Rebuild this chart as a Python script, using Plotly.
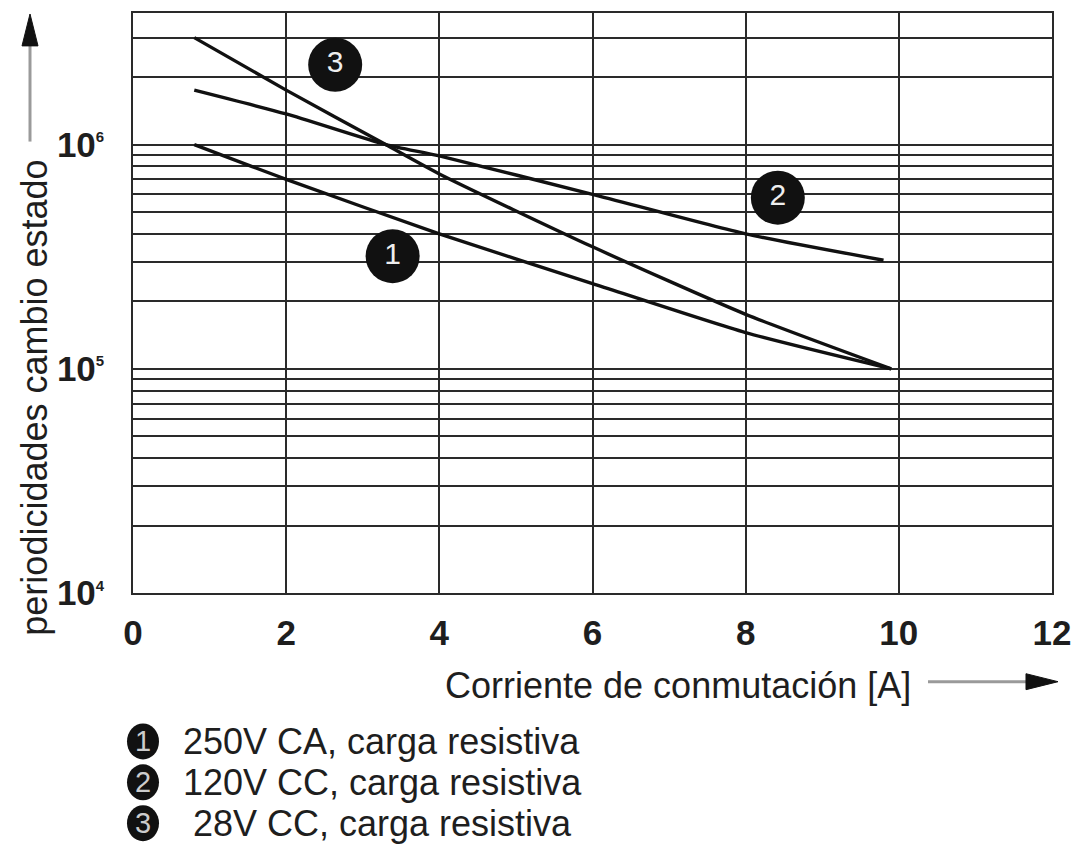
import plotly.graph_objects as go

# ---- data ----
x_c1 = [0.8, 2.0, 4.0, 6.0, 8.0, 9.9]
y_c1 = [1.0e6, 7.0e5, 4.0e5, 2.4e5, 1.45e5, 1.0e5]

x_c2 = [0.8, 2.0, 3.3, 4.0, 6.0, 8.0, 9.8]
y_c2 = [1.75e6, 1.37e6, 1.0e6, 8.9e5, 6.0e5, 4.0e5, 3.05e5]

x_c3 = [0.8, 2.0, 3.3, 4.0, 6.0, 8.0, 9.9]
y_c3 = [3.0e6, 1.75e6, 1.0e6, 7.4e5, 3.5e5, 1.75e5, 1.0e5]

badge_x = [3.39, 8.42, 2.64]
badge_y = [3.18e5, 5.8e5, 2.27e6]
badge_labels = ["1", "2", "3"]

x_ticks = [0, 2, 4, 6, 8, 10, 12]
y_major = [1e4, 1e5, 1e6]
y_major_text = ['10<sup><span style="font-size:15px">4</span></sup>',
                '10<sup><span style="font-size:15px">5</span></sup>',
                '10<sup><span style="font-size:15px">6</span></sup>']
y_minor = [m * 10 ** e for e in (4, 5, 6) for m in range(2, 10) if m * 10 ** e <= 3.0e6]

legend_labels = ["250V CA, carga resistiva", "120V CC, carga resistiva", " 28V CC, carga resistiva"]

x_title = "Corriente de conmutación [A]"
y_title = "periodicidades cambio estado"

FONT = "Liberation Sans, Arial, sans-serif"
GRID = "#2a2a2a"
TXT = "#1e1e1e"

# the page body adds an 8px offset; plot area in window pixels: x 133..1052, y 11..593
OFF = 8
L, R, T, B = 133, 1052, 11, 593
W, H = R - L, B - T
FIG_W, FIG_H = 1080 - OFF, 850 - OFF


def px(xp):
    return (xp - L) / W


def py(yp):
    return (B - yp) / H


fig = go.Figure()
for xs, ys in ((x_c1, y_c1), (x_c2, y_c2), (x_c3, y_c3)):
    fig.add_trace(go.Scatter(x=xs, y=ys, mode="lines",
                             line=dict(color="#111111", width=3.4, shape="spline", smoothing=0.6),
                             showlegend=False, hoverinfo="skip"))

fig.add_trace(go.Scatter(x=badge_x, y=badge_y, mode="markers+text", text=badge_labels,
                         textposition="middle center",
                         textfont=dict(color="#eeeeee", size=30, family=FONT),
                         marker=dict(size=54, color="#111111", line=dict(color="white", width=0)),
                         showlegend=False, hoverinfo="skip"))

fig.update_layout(
    width=FIG_W, height=FIG_H,
    margin=dict(l=L - OFF, r=FIG_W - (R - OFF), t=T - OFF, b=FIG_H - (B - OFF)),
    paper_bgcolor="white", plot_bgcolor="white",
    font=dict(family=FONT, color=TXT),
    xaxis=dict(range=[0, 12], tickvals=x_ticks, ticktext=[str(v) for v in x_ticks],
               showgrid=True, gridcolor=GRID, gridwidth=1.5, zeroline=False,
               showline=True, linecolor=GRID, linewidth=1.6, mirror=True,
               ticks="", tickfont=dict(size=35, family=FONT, weight="bold", color=TXT),
               ticklabelstandoff=8),
    yaxis=dict(type="log", range=[4, 6.587], tickvals=y_major, ticktext=y_major_text,
               showgrid=True, gridcolor=GRID, gridwidth=1.5, zeroline=False,
               showline=True, linecolor=GRID, linewidth=1.6, mirror=True,
               ticks="", tickfont=dict(size=35, family=FONT, weight="bold", color=TXT),
               ticklabelstandoff=20,
               minor=dict(tickvals=y_minor, showgrid=True, gridcolor=GRID, gridwidth=1.5, ticks="")),
)

# axis titles
fig.add_annotation(xref="paper", yref="paper", x=px(678), y=py(686), text=x_title,
                   xanchor="center", yanchor="middle",
                   showarrow=False, font=dict(size=36, family=FONT, color=TXT))
fig.add_annotation(xref="paper", yref="paper", x=px(35), y=py(397), text=y_title,
                   xanchor="center", yanchor="middle",
                   textangle=-90, showarrow=False, font=dict(size=36, family=FONT, color=TXT))

# arrows: grey shaft + black triangular head (window pixel coordinates -> paper)
def tri(points):
    return "M " + " L ".join("%f,%f" % (px(a), py(b)) for a, b in points) + " Z"

# horizontal arrow (x axis)
fig.add_shape(type="line", xref="paper", yref="paper", x0=px(928), y0=py(682), x1=px(1030), y1=py(682),
              line=dict(color="#9a9a9a", width=3))
fig.add_shape(type="path", xref="paper", yref="paper",
              path=tri([(1026, 674), (1058, 682), (1026, 690)]),
              fillcolor="#111111", line=dict(color="#111111", width=1))
# vertical arrow (y axis)
fig.add_shape(type="line", xref="paper", yref="paper", x0=px(30), y0=py(140), x1=px(30), y1=py(40),
              line=dict(color="#9a9a9a", width=3))
fig.add_shape(type="path", xref="paper", yref="paper",
              path=tri([(22, 44), (30, 12), (38, 44)]),
              fillcolor="#111111", line=dict(color="#111111", width=1))

# legend
legend_y = [742, 783, 824]
for lab, num, yy in zip(legend_labels, badge_labels, legend_y):
    fig.add_shape(type="circle", xref="paper", yref="paper", xsizemode="pixel", ysizemode="pixel",
                  xanchor=px(143), yanchor=py(yy), x0=-16, x1=16, y0=-18, y1=18,
                  fillcolor="#111111", line=dict(width=0))
    fig.add_annotation(xref="paper", yref="paper", x=px(143), y=py(yy), text=num, showarrow=False,
                       xanchor="center", yanchor="middle",
                       font=dict(size=29, family=FONT, color="#cccccc"))
    fig.add_annotation(xref="paper", yref="paper", x=px(181), y=py(yy), text=lab, showarrow=False,
                       xanchor="left", yanchor="middle", font=dict(size=36, family=FONT, color=TXT))

fig.write_html("out.html")
